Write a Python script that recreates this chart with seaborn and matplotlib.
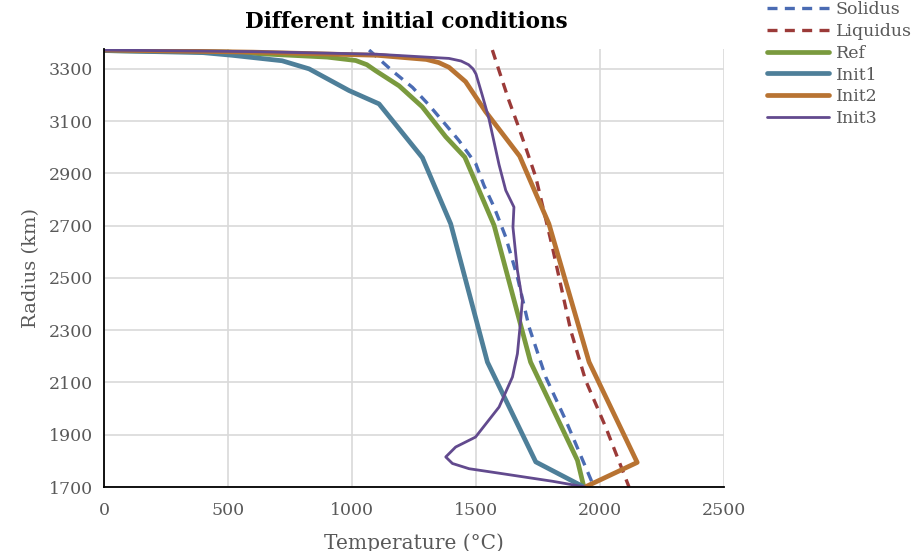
import matplotlib
matplotlib.use("Agg")
import matplotlib.pyplot as plt
import seaborn as sns
import pandas as pd

# ---- data (temperature in °C, radius in km) ----
solidus_T = [1069, 1163, 1244, 1310, 1378, 1431, 1499, 1532, 1573, 1620, 1667, 1714, 1781, 1862, 1942, 1976]
solidus_R = [3372, 3292, 3229, 3162, 3086, 3026, 2937, 2854, 2771, 2656, 2503, 2312, 2121, 1955, 1776, 1700]

liquidus_T = [1566, 1593, 1633, 1667, 1700, 1741, 1808, 1882, 1942, 2023, 2117]
liquidus_R = [3372, 3293, 3178, 3090, 3000, 2886, 2618, 2299, 2108, 1929, 1700]

ref_T = [0, 500, 900, 1015, 1060, 1095, 1190, 1283, 1378, 1455, 1573, 1720, 1909, 1935]
ref_R = [3370, 3364, 3345, 3332, 3316, 3293, 3235, 3155, 3040, 2962, 2701, 2178, 1802, 1700]

init1_T = [0, 400, 516, 718, 827, 988, 1109, 1284, 1398, 1546, 1741, 1935]
init1_R = [3370, 3362, 3352, 3331, 3300, 3217, 3166, 2960, 2707, 2178, 1796, 1700]

init2_T = [0, 600, 1100, 1300, 1350, 1391, 1458, 1539, 1676, 1794, 1956, 2150, 1940]
init2_R = [3372, 3364, 3352, 3336, 3324, 3306, 3251, 3136, 2966, 2707, 2178, 1794, 1700]

init3_T = [0, 600, 1100, 1391, 1440, 1470, 1488, 1500, 1525, 1552, 1593, 1620, 1653, 1649, 1667, 1687,
           1680, 1667, 1647, 1593, 1498, 1418, 1378, 1405, 1472, 1606, 1808, 1940]
init3_R = [3372, 3366, 3356, 3340, 3330, 3316, 3300, 3280, 3200, 3110, 2933, 2835, 2771, 2694, 2529, 2414,
           2337, 2210, 2121, 2006, 1891, 1853, 1815, 1790, 1770, 1751, 1722, 1700]

series_names = ["Solidus", "Liquidus", "Ref", "Init1", "Init2", "Init3"]
x_ticks = [0, 500, 1000, 1500, 2000, 2500]
y_ticks = [1700, 1900, 2100, 2300, 2500, 2700, 2900, 3100, 3300]

# ---- styling ----
sns.set_theme(style="white")
plt.rcParams["font.family"] = ["DejaVu Serif"]

colors = {
    "Solidus": "#4A6BB3",
    "Liquidus": "#9B3A38",
    "Ref": "#7A9A3E",
    "Init1": "#4E7F99",
    "Init2": "#B87332",
    "Init3": "#624A8E",
}
widths = {"Solidus": 2.4, "Liquidus": 2.4, "Ref": 3.4, "Init1": 3.4, "Init2": 3.4, "Init3": 2.0}
styles = {"Solidus": (0, (3, 2.2)), "Liquidus": (0, (3, 2.2))}

data = {
    "Solidus": (solidus_T, solidus_R),
    "Liquidus": (liquidus_T, liquidus_R),
    "Ref": (ref_T, ref_R),
    "Init1": (init1_T, init1_R),
    "Init2": (init2_T, init2_R),
    "Init3": (init3_T, init3_R),
}

fig = plt.figure(figsize=(9.14, 5.51), dpi=100)
ax = fig.add_axes([104 / 914, 1 - 487 / 551, 620 / 914, 438 / 551])

for name in series_names:
    T, R = data[name]
    df = pd.DataFrame({"T": T, "R": R})
    sns.lineplot(data=df, x="T", y="R", ax=ax, sort=False, estimator=None,
                 color=colors[name], linewidth=widths[name],
                 linestyle=styles.get(name, "-"), label=name,
                 solid_capstyle="round", solid_joinstyle="round", dash_capstyle="butt")

ax.set_xlim(0, 2500)
ax.set_ylim(1700, 3376)
ax.set_xticks(x_ticks)
ax.set_yticks(y_ticks)
ax.grid(True, color="#D9D9D9", linewidth=1.2)
ax.set_axisbelow(True)
for s in ["top", "right"]:
    ax.spines[s].set_visible(False)
for s in ["left", "bottom"]:
    ax.spines[s].set_color("black")
    ax.spines[s].set_linewidth(1.3)
ax.tick_params(axis="both", length=0, labelsize=12.5, labelcolor="#595959", pad=8)
ax.tick_params(axis="x", pad=11)

ax.set_xlabel("Temperature (°C)", fontsize=14.5, color="#595959", labelpad=10)
ax.set_ylabel("Radius (km)", fontsize=14, color="#595959", labelpad=6)
fig.text(406 / 914, 1 - 22 / 551, "Different initial conditions", ha="center", va="center",
         fontsize=15.5, fontweight="bold", color="black")

handles, labels = ax.get_legend_handles_labels()
ax.get_legend().remove()
fig.legend(handles, labels, loc="upper left", bbox_to_anchor=(760 / 914, 1 + 6 / 551),
           frameon=False, fontsize=12.5, handlelength=3.6, labelspacing=0.28,
           handletextpad=0.35, labelcolor="#595959", borderaxespad=0)

fig.savefig("out.png", dpi=100)
